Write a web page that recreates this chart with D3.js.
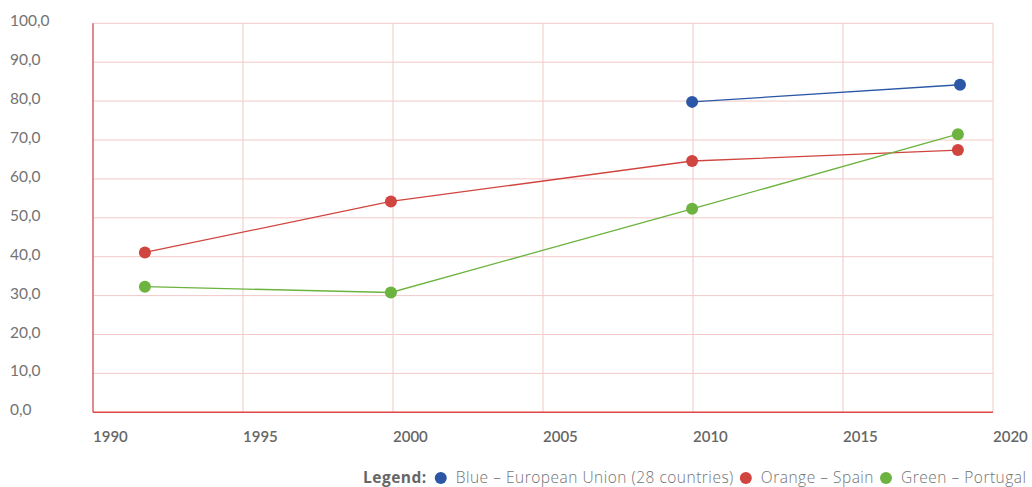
<!DOCTYPE html>
<html><head><meta charset="utf-8">
<script src="https://cdn.jsdelivr.net/npm/d3@7"></script>
<style>
body{margin:0;background:#fff;}
svg{display:block;font-family:Lato, "Noto Sans", sans-serif;}
</style></head>
<body><svg id="chart" width="1032" height="487"></svg>
<script>
const yTicks = [0,10,20,30,40,50,60,70,80,90,100];
const xTicks = [1990,1995,2000,2005,2010,2015,2020];
const seriesNames = ["Blue – European Union (28 countries)","Orange – Spain","Green – Portugal"];
const seriesColors = ["#2b57a6","#d0453f","#6cb33f"];
const euYears = [2009.97, 2018.9];
const euValues = [79.8, 84.2];
const esYears = [1991.73, 1999.93, 2009.97, 2018.83];
const esValues = [41.1, 54.2, 64.6, 67.4];
const ptYears = [1991.73, 1999.93, 2009.97, 2018.83];
const ptValues = [32.3, 30.8, 52.3, 71.5];

const series = [
  {name: seriesNames[0], color: seriesColors[0], pts: euYears.map((x,i)=>({x, y: euValues[i]}))},
  {name: seriesNames[1], color: seriesColors[1], pts: esYears.map((x,i)=>({x, y: esValues[i]}))},
  {name: seriesNames[2], color: seriesColors[2], pts: ptYears.map((x,i)=>({x, y: ptValues[i]}))}
];

const svg = d3.select("#chart");
const m = {l: 93, r: 993, t: 23.3, b: 412.3};
const x = d3.scaleLinear().domain([1990, 2020]).range([m.l, m.r]);
const y = d3.scaleLinear().domain([0, 100]).range([m.b, m.t]);
const fmt = d => d3.format(".1f")(d).replace(".", ",");

// grid
const g = svg.append("g");
g.selectAll(".hg").data(yTicks).join("line")
  .attr("x1", m.l).attr("x2", m.r).attr("y1", d=>y(d)).attr("y2", d=>y(d))
  .attr("stroke", "#f3c9c9").attr("stroke-width", 1);
g.selectAll(".vg").data(xTicks).join("line")
  .attr("x1", d=>x(d)).attr("x2", d=>x(d)).attr("y1", m.t).attr("y2", m.b)
  .attr("stroke", "#f3c9c9").attr("stroke-width", 1);

// axes lines
svg.append("line").attr("x1", m.l).attr("x2", m.l).attr("y1", m.t).attr("y2", m.b)
  .attr("stroke", "#d9585a").attr("stroke-width", 1.3);
svg.append("line").attr("x1", m.l).attr("x2", m.r).attr("y1", m.b).attr("y2", m.b)
  .attr("stroke", "#e04848").attr("stroke-width", 1.5);

// y labels
svg.selectAll(".yl").data(yTicks).join("text")
  .attr("x", 10).attr("y", d=>y(d)+3)
  .attr("font-size", 15.5).attr("fill", "#737373")
  .text(fmt);

// x labels
svg.selectAll(".xl").data(xTicks).join("text")
  .attr("x", d=>x(d)).attr("y", 442)
  .attr("font-size", 15).attr("font-weight", 600).attr("fill", "#666")
  .text(d=>d);

// lines
const line = d3.line().x(d=>x(d.x)).y(d=>y(d.y));
series.forEach(s=>{
  svg.append("path").datum(s.pts).attr("d", line)
    .attr("fill","none").attr("stroke", s.color).attr("stroke-width", 1.3);
  svg.selectAll(null).data(s.pts).join("circle")
    .attr("cx", d=>x(d.x)).attr("cy", d=>y(d.y)).attr("r", 6)
    .attr("fill", s.color);
});

// legend
const LF = "'Open Sans', sans-serif";
const LS = 15.5, LSP = 0.5, LY = 482.5;
const lg = svg.append("text").attr("y", LY).attr("font-size", LS).attr("fill", "#666")
  .attr("letter-spacing", LSP).style("font-family", LF);
lg.append("tspan").attr("x", 363).attr("font-weight", 700).text("Legend:");
let prevEnd = 363 + lg.node().getComputedTextLength();
const legendG = svg.append("g");
series.forEach((s,i)=>{
  const cx = prevEnd + (i === 0 ? 14 : 12);
  legendG.append("circle").attr("cx", cx).attr("cy", 478).attr("r", 6).attr("fill", s.color);
  const t = legendG.append("text").attr("x", cx + 15).attr("y", LY).attr("font-size", LS)
    .attr("letter-spacing", LSP).style("font-family", LF)
    .attr("fill", "#737373").attr("font-weight", 300).text(s.name);
  prevEnd = cx + 15 + t.node().getComputedTextLength();
});
</script></body></html>
